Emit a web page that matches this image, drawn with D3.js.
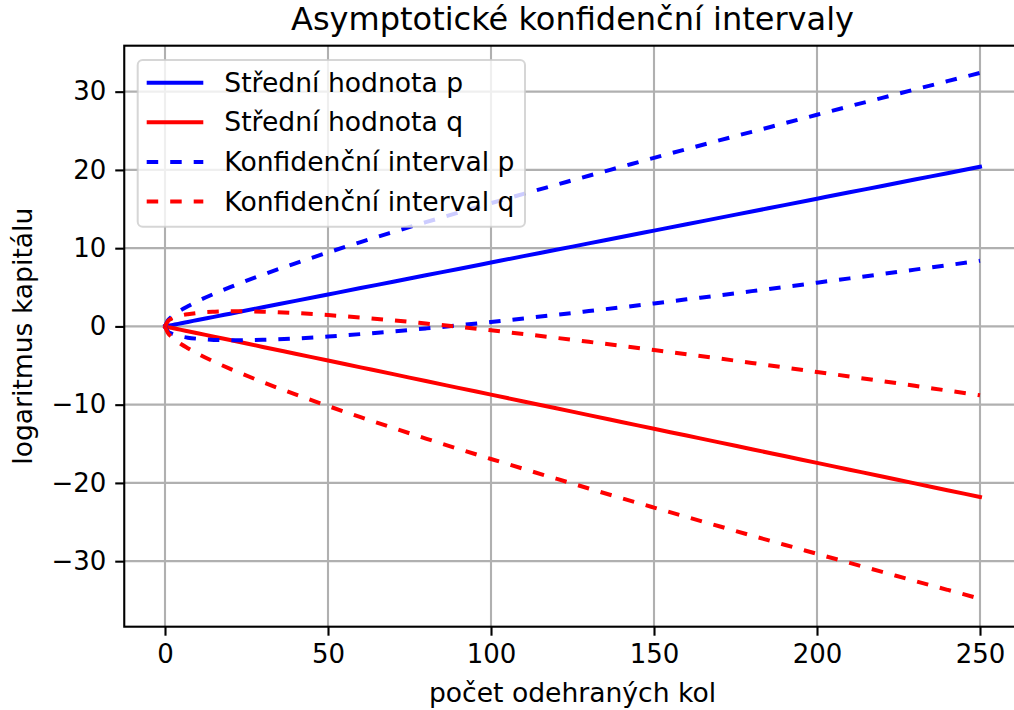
<!DOCTYPE html>
<html><head><meta charset="utf-8">
<script src="https://cdn.jsdelivr.net/npm/d3@7"></script>
<style>body{margin:0;background:#fff}svg{display:block}text{font-family:"DejaVu Sans",sans-serif;fill:#000}</style>
</head><body>
<script>
const rounds = [0,1,2,3,5,7,10,15,20,30,40,50,60,70,80,90,100,110,120,130,140,150,160,170,180,190,200,210,220,230,240,250];
const meanP = [0,0.08,0.16,0.24,0.41,0.57,0.82,1.22,1.63,2.45,3.26,4.08,4.90,5.71,6.53,7.34,8.16,8.98,9.79,10.61,11.42,12.24,13.06,13.87,14.69,15.50,16.32,17.14,17.95,18.77,19.58,20.40];
const meanQ = [0,-0.09,-0.17,-0.26,-0.44,-0.61,-0.87,-1.31,-1.74,-2.62,-3.49,-4.36,-5.23,-6.10,-6.98,-7.85,-8.72,-9.59,-10.46,-11.34,-12.21,-13.08,-13.95,-14.82,-15.70,-16.57,-17.44,-18.31,-19.18,-20.06,-20.93,-21.80];
const upperP = [0,0.84,1.23,1.55,2.11,2.58,3.22,4.16,5.02,6.61,8.06,9.45,10.78,12.06,13.32,14.54,15.75,16.94,18.10,19.26,20.40,21.54,22.66,23.77,24.87,25.96,27.05,28.14,29.21,30.28,31.34,32.40];
const lowerP = [0,-0.68,-0.91,-1.07,-1.29,-1.44,-1.58,-1.72,-1.76,-1.71,-1.54,-1.29,-0.98,-0.64,-0.26,0.14,0.57,1.02,1.48,1.96,2.44,2.94,3.46,3.97,4.51,5.04,5.59,6.14,6.69,7.26,7.82,8.40];
const upperQ = [0,0.73,0.99,1.16,1.40,1.56,1.73,1.87,1.94,1.88,1.71,1.45,1.14,0.78,0.37,-0.05,-0.50,-0.97,-1.46,-1.97,-2.48,-3.01,-3.55,-4.10,-4.67,-5.24,-5.82,-6.40,-6.99,-7.59,-8.20,-8.80];
const lowerQ = [0,-0.91,-1.33,-1.68,-2.28,-2.78,-3.47,-4.49,-5.42,-7.12,-8.69,-10.17,-11.60,-12.98,-14.33,-15.65,-16.94,-18.21,-19.46,-20.71,-21.94,-23.15,-24.35,-25.54,-26.73,-27.90,-29.06,-30.22,-31.37,-32.53,-33.66,-34.80];
const xTicks = [0,50,100,150,200,250];
const yTicks = [-30,-20,-10,0,10,20,30];
const legendLabels = ["Střední hodnota p","Střední hodnota q","Konfidenční interval p","Konfidenční interval q"];
const titleText = "Asymptotické konfidenční intervaly";
const xLabel = "počet odehraných kol";
const yLabel = "logaritmus kapitálu";

const W=1014,H=710;
const L=124.25,R=1020.75,T=45.7,B=626.7;
const x = d3.scaleLinear().domain([-12.5,262.5]).range([L,R]);
const y = d3.scaleLinear().domain([-38.375,35.875]).range([B,T]);
const BLUE="#0000ff", RED="#ff0000", DASH="11.5,12";

const svg = d3.select("body").append("svg").attr("width",W).attr("height",H);

// grid
const grid = svg.append("g");
grid.selectAll("line.gx").data(xTicks).join("line")
  .attr("x1",d=>x(d)).attr("x2",d=>x(d)).attr("y1",T).attr("y2",B)
  .attr("stroke","#b0b0b0").attr("stroke-width",2.1);
grid.selectAll("line.gy").data(yTicks).join("line")
  .attr("y1",d=>y(d)).attr("y2",d=>y(d)).attr("x1",L).attr("x2",R)
  .attr("stroke","#b0b0b0").attr("stroke-width",2.1);

// series
const series = [
  {v:meanP,c:BLUE,d:null},
  {v:meanQ,c:RED,d:null},
  {v:upperP,c:BLUE,d:DASH},
  {v:lowerP,c:BLUE,d:DASH},
  {v:upperQ,c:RED,d:DASH},
  {v:lowerQ,c:RED,d:DASH}
];
const line = d3.line().x((d,i)=>x(rounds[i])).y(d=>y(d)).curve(d3.curveMonotoneX);
svg.append("g").selectAll("path").data(series).join("path")
  .attr("d",s=>line(s.v)).attr("fill","none").attr("stroke",s=>s.c)
  .attr("stroke-width",4).attr("stroke-dasharray",s=>s.d)
  .attr("stroke-linejoin","round").attr("stroke-linecap",s=>s.d?"butt":"square");

// axes
const xa = svg.append("g").attr("transform",`translate(0,${B})`)
  .call(d3.axisBottom(x).tickValues(xTicks).tickSize(9).tickPadding(9).tickFormat(d3.format("d")));
const ya = svg.append("g").attr("transform",`translate(${L},0)`)
  .call(d3.axisLeft(y).tickValues(yTicks).tickSize(9).tickPadding(9).tickFormat(d3.format("d")));
[xa,ya].forEach(a=>{
  a.select(".domain").remove();
  a.selectAll(".tick line").attr("stroke","#000").attr("stroke-width",2.1);
  a.selectAll(".tick text").style("font-size","26px").style("font-family","DejaVu Sans");
});

// spines
svg.append("rect").attr("x",L).attr("y",T).attr("width",R-L).attr("height",B-T)
  .attr("fill","none").attr("stroke","#000").attr("stroke-width",2.1);

// legend
const lg = svg.append("g");
lg.append("rect").attr("x",137.7).attr("y",60).attr("width",387.3).attr("height",166.7)
  .attr("rx",5).attr("fill","#fff").attr("fill-opacity",0.8)
  .attr("stroke","#cccccc").attr("stroke-opacity",0.8).attr("stroke-width",2);
const legendStyles = [{c:BLUE,d:null},{c:RED,d:null},{c:BLUE,d:DASH},{c:RED,d:DASH}];
legendLabels.forEach((lab,i)=>{
  const cy = 82.7 + i*39.6;
  lg.append("line").attr("x1",146.7).attr("x2",203.3).attr("y1",cy).attr("y2",cy)
    .attr("stroke",legendStyles[i].c).attr("stroke-width",4).attr("stroke-dasharray",legendStyles[i].d);
  lg.append("text").attr("x",224.3).attr("y",cy+9).style("font-size","26.6px").text(lab);
});

// labels
svg.append("text").attr("x",(L+R)/2).attr("y",30).attr("text-anchor","middle")
  .style("font-size","32px").text(titleText);
svg.append("text").attr("x",(L+R)/2).attr("y",702).attr("text-anchor","middle")
  .style("font-size","26.6px").text(xLabel);
svg.append("text").attr("transform",`translate(32,${(T+B)/2}) rotate(-90)`).attr("text-anchor","middle")
  .style("font-size","26.6px").text(yLabel);
</script>
</body></html>
